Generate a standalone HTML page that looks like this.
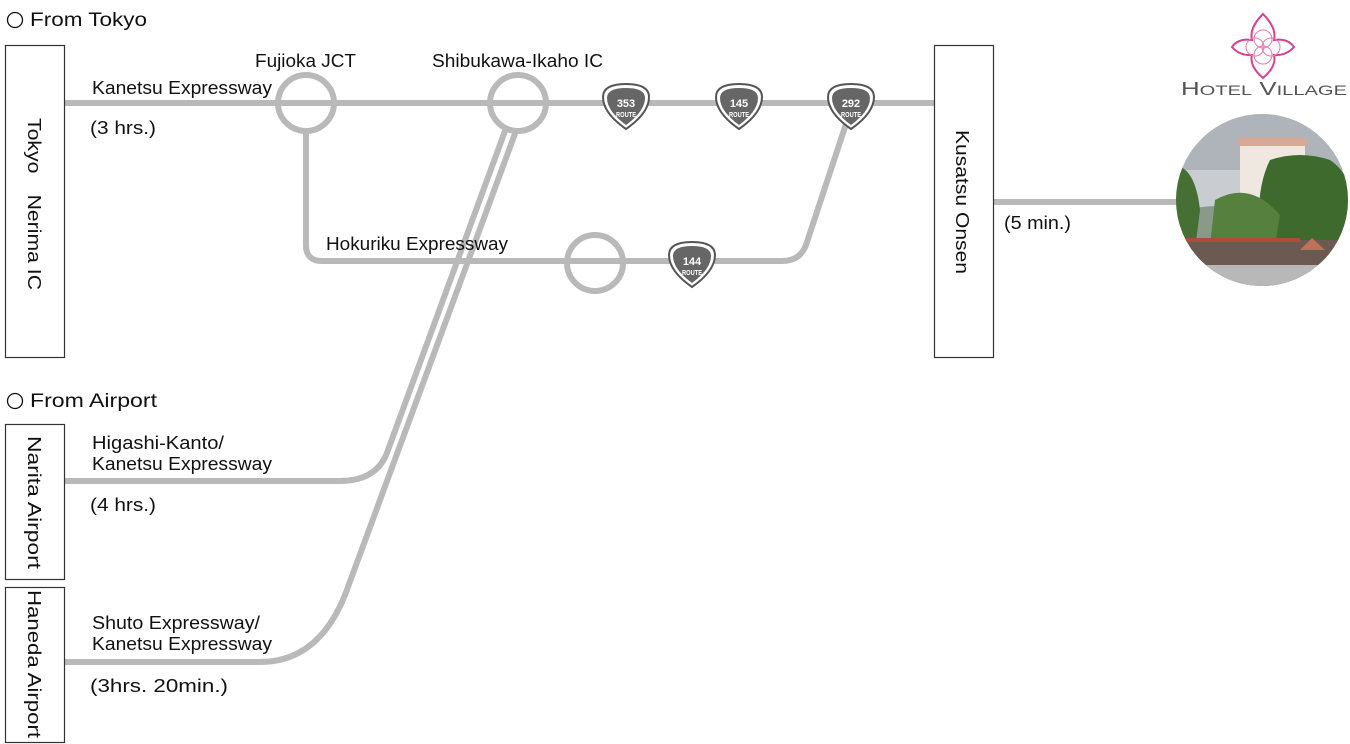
<!DOCTYPE html>
<html><head><meta charset="utf-8"><style>
html,body{margin:0;padding:0;background:#fff;}
svg{display:block;font-family:"Liberation Sans","Noto Sans CJK JP",sans-serif;}
</style></head><body>
<svg width="1350" height="744" viewBox="0 0 1350 744" xmlns="http://www.w3.org/2000/svg">
<defs>
<clipPath id="pc"><circle cx="1262" cy="200" r="86"/></clipPath>
<g id="shield">
<path d="M-23,-10 Q-23,-23 0,-23 Q23,-23 23,-10 Q23,6 0,22 Q-23,6 -23,-10Z" fill="#fff" stroke="#555" stroke-width="2"/>
<path d="M-19,-9 Q-19,-19 0,-19 Q19,-19 19,-9 Q19,4 0,18 Q-19,4 -19,-9Z" fill="#666"/>
</g>
</defs>
<g fill="none" stroke="#b9b9b9" stroke-width="6">
<line x1="64" y1="103" x2="934" y2="103"/>
<circle cx="306" cy="103" r="28"/>
<circle cx="518" cy="103" r="28"/>
<path d="M306,131 L306,245 Q306,261 322,261 L782,261 Q800,261 806,245 L848,118"/>
<circle cx="595" cy="263" r="28"/>
<path d="M505,131 L388,450 Q378,481 340,481 L64,481"/>
<path d="M516,131 L345,595 Q318,662 260,662 L64,662"/>
<line x1="993" y1="202" x2="1180" y2="202"/>
</g>
<g fill="#fff" stroke="#333" stroke-width="1.2">
<rect x="5.5" y="45.5" width="59" height="312"/>
<rect x="934.5" y="45.5" width="59" height="312"/>
<rect x="5.5" y="424.5" width="59" height="155"/>
<rect x="5.5" y="587.5" width="59" height="155"/>
</g>
<g font-size="18" fill="#111" lengthAdjust="spacingAndGlyphs">
<circle cx="15" cy="20" r="7.5" fill="none" stroke="#111" stroke-width="1.3"/>
<text x="30" y="26" font-size="19" textLength="117" lengthAdjust="spacingAndGlyphs">From Tokyo</text>
<circle cx="15" cy="401" r="7.5" fill="none" stroke="#111" stroke-width="1.3"/>
<text x="30" y="407" font-size="19" textLength="127" lengthAdjust="spacingAndGlyphs">From Airport</text>
<text x="92" y="94" textLength="180" lengthAdjust="spacingAndGlyphs">Kanetsu Expressway</text>
<text x="90" y="134" textLength="66" lengthAdjust="spacingAndGlyphs">(3 hrs.)</text>
<text x="255" y="67" textLength="101" lengthAdjust="spacingAndGlyphs">Fujioka JCT</text>
<text x="432" y="67" textLength="171" lengthAdjust="spacingAndGlyphs">Shibukawa-Ikaho IC</text>
<text x="326" y="250" textLength="182" lengthAdjust="spacingAndGlyphs">Hokuriku Expressway</text>
<text x="92" y="449" textLength="132" lengthAdjust="spacingAndGlyphs">Higashi-Kanto/</text>
<text x="92" y="470" textLength="180" lengthAdjust="spacingAndGlyphs">Kanetsu Expressway</text>
<text x="90" y="511" textLength="66" lengthAdjust="spacingAndGlyphs">(4 hrs.)</text>
<text x="92" y="629" textLength="168" lengthAdjust="spacingAndGlyphs">Shuto Expressway/</text>
<text x="92" y="650" textLength="180" lengthAdjust="spacingAndGlyphs">Kanetsu Expressway</text>
<text x="90" y="692" textLength="138" lengthAdjust="spacingAndGlyphs">(3hrs. 20min.)</text>
<text x="1004" y="229" textLength="67" lengthAdjust="spacingAndGlyphs">(5 min.)</text>
<text transform="translate(28,118) rotate(90)" textLength="172" lengthAdjust="spacingAndGlyphs">Tokyo　Nerima IC</text>
<text transform="translate(956,130) rotate(90)" textLength="144" lengthAdjust="spacingAndGlyphs">Kusatsu Onsen</text>
<text transform="translate(28,436) rotate(90)" textLength="133" lengthAdjust="spacingAndGlyphs">Narita Airport</text>
<text transform="translate(28,590) rotate(90)" textLength="148" lengthAdjust="spacingAndGlyphs">Haneda Airport</text>
</g>
<g font-weight="bold" fill="#fff" text-anchor="middle">
<use href="#shield" x="626" y="107"/><text x="626" y="107" font-size="11">353</text><text x="626" y="117" font-size="7" textLength="20" lengthAdjust="spacingAndGlyphs">ROUTE</text>
<use href="#shield" x="739" y="107"/><text x="739" y="107" font-size="11">145</text><text x="739" y="117" font-size="7" textLength="20" lengthAdjust="spacingAndGlyphs">ROUTE</text>
<use href="#shield" x="851" y="107"/><text x="851" y="107" font-size="11">292</text><text x="851" y="117" font-size="7" textLength="20" lengthAdjust="spacingAndGlyphs">ROUTE</text>
<use href="#shield" x="692" y="265"/><text x="692" y="265" font-size="11">144</text><text x="692" y="275" font-size="7" textLength="20" lengthAdjust="spacingAndGlyphs">ROUTE</text>
</g>
<g fill="none" stroke="#d6408f" stroke-width="2">
<path d="M1263,14 Q1249,28 1252,40 Q1238,38 1232,47 Q1240,56 1252,55 Q1249,66 1263,78 Q1277,66 1274,55 Q1286,56 1294,47 Q1288,38 1274,40 Q1277,28 1263,14Z"/>
<circle cx="1263" cy="39" r="9" stroke-width="1" stroke="#e07ab0"/>
<circle cx="1263" cy="55" r="9" stroke-width="1" stroke="#e07ab0"/>
<circle cx="1255" cy="47" r="9" stroke-width="1" stroke="#e07ab0"/>
<circle cx="1271" cy="47" r="9" stroke-width="1" stroke="#e07ab0"/>
</g>
<text x="1181" y="95" font-size="18" fill="#555" textLength="166" lengthAdjust="spacingAndGlyphs">H<tspan font-size="14">OTEL</tspan> V<tspan font-size="14">ILLAGE</tspan></text>
<g clip-path="url(#pc)">
<rect x="1170" y="110" width="190" height="180" fill="#c9ccd0"/>
<rect x="1170" y="110" width="190" height="60" fill="#aeb4ba"/>
<path d="M1170,215 Q1210,200 1250,210 L1360,205 L1360,290 L1170,290Z" fill="#8a9a8a"/>
<rect x="1240" y="145" width="65" height="95" fill="#eee8e0"/>
<rect x="1238" y="138" width="69" height="8" fill="#d9a894"/>
<path d="M1270,160 Q1300,150 1330,160 Q1360,180 1355,240 L1260,240 Q1255,190 1270,160Z" fill="#3e6a2e"/>
<path d="M1172,165 Q1195,165 1200,210 L1195,250 L1172,250Z" fill="#466f34"/>
<path d="M1215,200 Q1250,180 1280,215 L1275,245 L1210,245Z" fill="#56803e"/>
<rect x="1180" y="240" width="160" height="25" fill="#6b5a52"/>
<rect x="1180" y="238" width="120" height="4" fill="#b04a3a"/>
<path d="M1300,250 L1312,238 L1325,250Z" fill="#c0705a"/>
<rect x="1170" y="265" width="190" height="30" fill="#b8b8b8"/>
</g>
</svg>
</body></html>
